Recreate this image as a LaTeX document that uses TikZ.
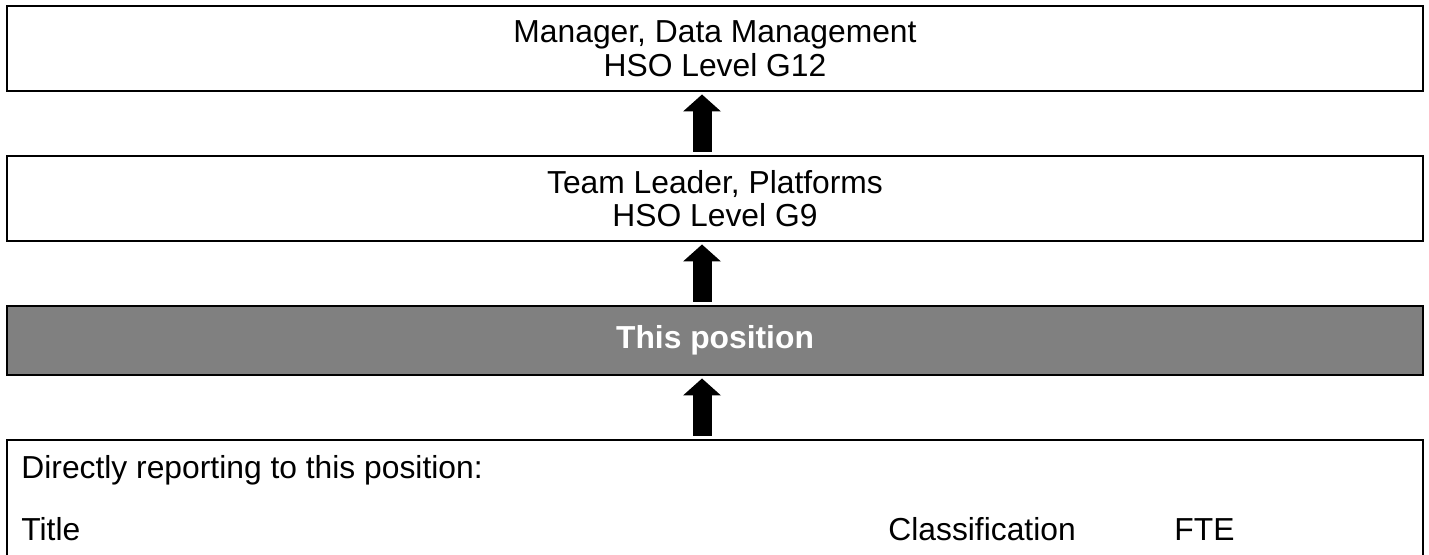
\documentclass[tikz,border=0pt]{standalone}
\usepackage{fontspec}
\setmainfont{Liberation Sans}
\usetikzlibrary{positioning,arrows.meta}

\definecolor{posgray}{RGB}{128,128,128}

\begin{document}
\begin{tikzpicture}[x=0.5pt,y=-0.5pt,node distance=32.5pt,
                      font=\fontsize{15.9}{16.75}\selectfont]
      \tikzstyle{posbox}=[draw,rectangle,line width=1.1pt,outer sep=0pt,
                          minimum width=708pt,align=center]
      \tikzstyle{uparrow}=[line width=9.5pt,shorten <=2pt,shorten >=1.75pt,
                           -{Triangle[width=19pt,length=8.5pt,line width=0pt]}]
      \tikzstyle{rowtext}=[anchor=base west,inner sep=0pt]

      \useasboundingbox (0,0) rectangle (1429,555);

      \node[posbox,minimum height=42.5pt] (mgr) at (715,48.5)
            {Manager, Data Management\\HSO Level G12};
      \node[posbox,minimum height=42.5pt] (lead) [below=of mgr]
            {Team Leader, Platforms\\HSO Level G9};
      \node[posbox,minimum height=34.5pt,fill=posgray,text=white,
            font=\fontsize{15.9}{16.75}\selectfont\bfseries] (this) [below=of lead]
            {This position};
      \node[posbox,minimum height=70pt] (reports) [below=of this] {};

      % reporting lines
      \draw[uparrow] ([xshift=-6.5pt]lead.north) -- ([xshift=-6.5pt]mgr.south);
      \draw[uparrow] ([xshift=-6.5pt]this.north) -- ([xshift=-6.5pt]lead.south);
      \draw[uparrow] ([xshift=-6.5pt]reports.north) -- ([xshift=-6.5pt]this.south);

      \node[rowtext] (direct) at (21,479) {Directly reporting to this position:};
      \node[rowtext] (title) at (21,540) {Title};
      \node[rowtext] (class) at (888,540) {Classification};
      \node[rowtext] (fte) at (1174,540) {FTE};

    \end{tikzpicture}
\end{document}
